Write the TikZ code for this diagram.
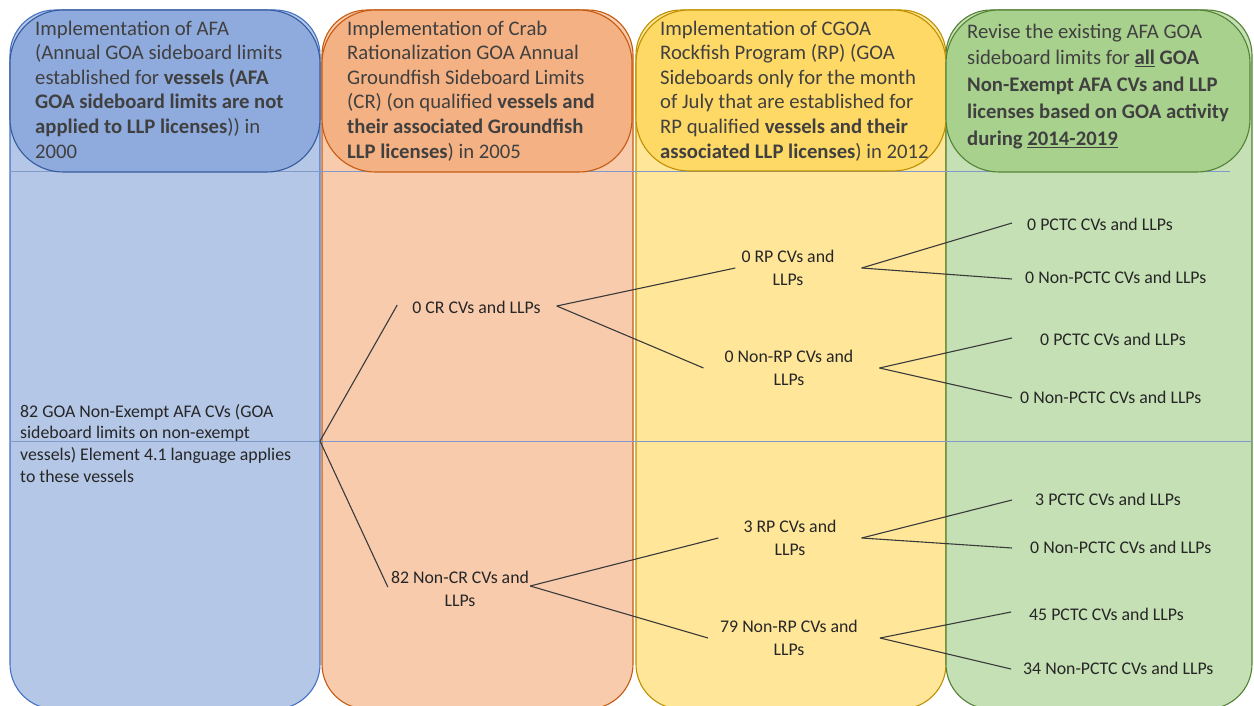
\documentclass[tikz,border=0pt]{standalone}
\usepackage{fontspec}
\setmainfont{Carlito}
\definecolor{bluebody}{HTML}{B4C7E7}
\definecolor{bluehead}{HTML}{8FAADC}
\definecolor{blueline}{HTML}{4472C4}
\definecolor{orbody}{HTML}{F8CBAD}
\definecolor{orhead}{HTML}{F4B183}
\definecolor{orline}{HTML}{C55A11}
\definecolor{yebody}{HTML}{FFE699}
\definecolor{yehead}{HTML}{FFD966}
\definecolor{yeline}{HTML}{BF9000}
\definecolor{grbody}{HTML}{C5E0B4}
\definecolor{grhead}{HTML}{A9D18E}
\definecolor{grline}{HTML}{548235}
\definecolor{sepline}{HTML}{7F9ACB}
\definecolor{hdrtext}{HTML}{404040}
\definecolor{lbltext}{HTML}{262626}
\definecolor{conn}{HTML}{3A3A3A}
\newcommand{\hdrfont}{\fontsize{20.7}{24.6}\selectfont}
\newcommand{\hdrfontg}{\fontsize{20.7}{26.75}\selectfont}
\newcommand{\lblfont}{\fontsize{17.8}{22.5}\selectfont}
\newcommand{\bodyfont}{\fontsize{17.8}{21.7}\selectfont}
\tikzset{
  colbody/.style={rounded corners=45pt, line width=1.1pt},
  colhead/.style={rounded corners=53pt, line width=1.1pt},
  hdrtxt/.style={anchor=north west, inner sep=0pt, align=left, text=hdrtext, font=\hdrfont},
  lbl/.style={inner sep=0pt, align=center, text=lbltext, font=\lblfont},
  glbl/.style={lbl, anchor=west},
  connector/.style={draw=conn, line width=1.1pt},
  sep/.style={draw=sepline, line width=1pt}
}
\begin{document}
\begin{tikzpicture}[x=1pt,y=-1pt]
\useasboundingbox (0,0) rectangle (1254,706);
\begin{scope}
\clip (0,0) rectangle (1254,706);
% column bodies
\draw[colbody, fill=bluebody, draw=blueline] (10,10) rectangle (320,709);
\draw[colbody, fill=orbody, draw=orline] (322,10) rectangle (633,709);
\draw[colbody, fill=yebody, draw=yeline] (636,10) rectangle (946,709);
\draw[colbody, fill=grbody, draw=grline] (946,10) rectangle (1252,709);
% separator lines
\draw[sep] (10,172) -- (1230,172);
\draw[sep] (10,441) -- (1252,441);
% headers
\draw[colhead, fill=bluehead, draw=blueline!80!black] (10,10) rectangle (320,172);
\draw[colhead, fill=orhead, draw=orline] (322,10) rectangle (632,172);
\draw[colhead, fill=yehead, draw=yeline] (636,10) rectangle (946,171);
\draw[colhead, fill=grhead, draw=grline] (946,10) rectangle (1250,172);
\end{scope}

% header texts
\node[hdrtxt] (hA) at (35,19) {\rule{0pt}{16pt}Implementation of AFA\\
(Annual GOA sideboard limits\\
established for \textbf{vessels (AFA}\\
\textbf{GOA sideboard limits are not}\\
\textbf{applied to LLP licenses})) in\\
2000};
\node[hdrtxt] (hB) at (347,19) {\rule{0pt}{16pt}Implementation of Crab\\
Rationalization GOA Annual\\
Groundfish Sideboard Limits\\
(CR) (on qualified \textbf{vessels and}\\
\textbf{their associated Groundfish}\\
\textbf{LLP licenses}) in 2005};
\node[hdrtxt] (hC) at (660,19) {\rule{0pt}{16pt}Implementation of CGOA\\
Rockfish Program (RP) (GOA\\
Sideboards only for the month\\
of July that are established for\\
RP qualified \textbf{vessels and their}\\
\textbf{associated LLP licenses}) in 2012};
\node[hdrtxt, font=\hdrfontg] (hD) at (967,22) {\rule{0pt}{16pt}Revise the existing AFA GOA\\
sideboard limits for \textbf{\underline{all} GOA}\\
\textbf{Non-Exempt AFA CVs and LLP}\\
\textbf{licenses based on GOA activity}\\
\textbf{during \underline{2014-2019}}};

% blue body text
\node[anchor=north west, inner sep=0pt, align=left, text=lbltext, font=\bodyfont] (root) at (20,402) {\rule{0pt}{15pt}82 GOA Non-Exempt AFA CVs (GOA\\
sideboard limits on non-exempt\\
vessels) Element 4.1 language applies\\
to these vessels};
\coordinate (fork) at (320,441);

% labels
\node[lbl] (cr0) at (476.5,307) {0 CR CVs and LLPs};
\node[lbl] (ncr) at (460,589) {82 Non-CR CVs and\\LLPs};
\node[lbl] (rp0) at (788,268) {0 RP CVs and\\LLPs};
\node[lbl] (nrp0) at (789,368) {0 Non-RP CVs and\\LLPs};
\node[lbl] (rp3) at (790,538) {3 RP CVs and\\LLPs};
\node[lbl] (nrp79) at (789,638) {79 Non-RP CVs and\\LLPs};

\node[glbl] (p1) at (1027,224) {0 PCTC CVs and LLPs};
\node[glbl] (np1) at (1025,277) {0 Non-PCTC CVs and LLPs};
\node[glbl] (p2) at (1040,339) {0 PCTC CVs and LLPs};
\node[glbl] (np2) at (1020,397) {0 Non-PCTC CVs and LLPs};
\node[glbl] (p3) at (1035,499) {3 PCTC CVs and LLPs};
\node[glbl] (np3) at (1030,547) {0 Non-PCTC CVs and LLPs};
\node[glbl] (p4) at (1029,614) {45 PCTC CVs and LLPs};
\node[glbl] (np4) at (1023,668) {34 Non-PCTC CVs and LLPs};

% connectors
\draw[connector] (fork) -- ([shift={(-15,-2)}]cr0.west);
\draw[connector] (fork) -- ([shift={(-3,-2)}]ncr.west);
\draw[connector] ([shift={(16,-1)}]cr0.east) -- ([xshift=-6]rp0.west);
\draw[connector] ([shift={(16,-1)}]cr0.east) -- ([xshift=-21]nrp0.west);
\draw[connector] ([shift={(1,-3)}]ncr.east) -- ([xshift=-25]rp3.west);
\draw[connector] ([shift={(1,-3)}]ncr.east) -- ([xshift=-12]nrp79.west);
\draw[connector] ([xshift=27]rp0.east) -- ([shift={(-15,-1)}]p1.west);
\draw[connector] ([xshift=27]rp0.east) -- ([shift={(-13,2)}]np1.west);
\draw[connector] ([xshift=26]nrp0.east) -- ([shift={(-28,-1)}]p2.west);
\draw[connector] ([xshift=26]nrp0.east) -- ([shift={(-8,1)}]np2.west);
\draw[connector] ([xshift=25]rp3.east) -- ([shift={(-23,1)}]p3.west);
\draw[connector] ([xshift=25]rp3.east) -- ([shift={(-18,1)}]np3.west);
\draw[connector] ([xshift=22]nrp79.east) -- ([shift={(-18,-2)}]p4.west);
\draw[connector] ([xshift=22]nrp79.east) -- ([shift={(-12,1)}]np4.west);
\end{tikzpicture}
\end{document}
